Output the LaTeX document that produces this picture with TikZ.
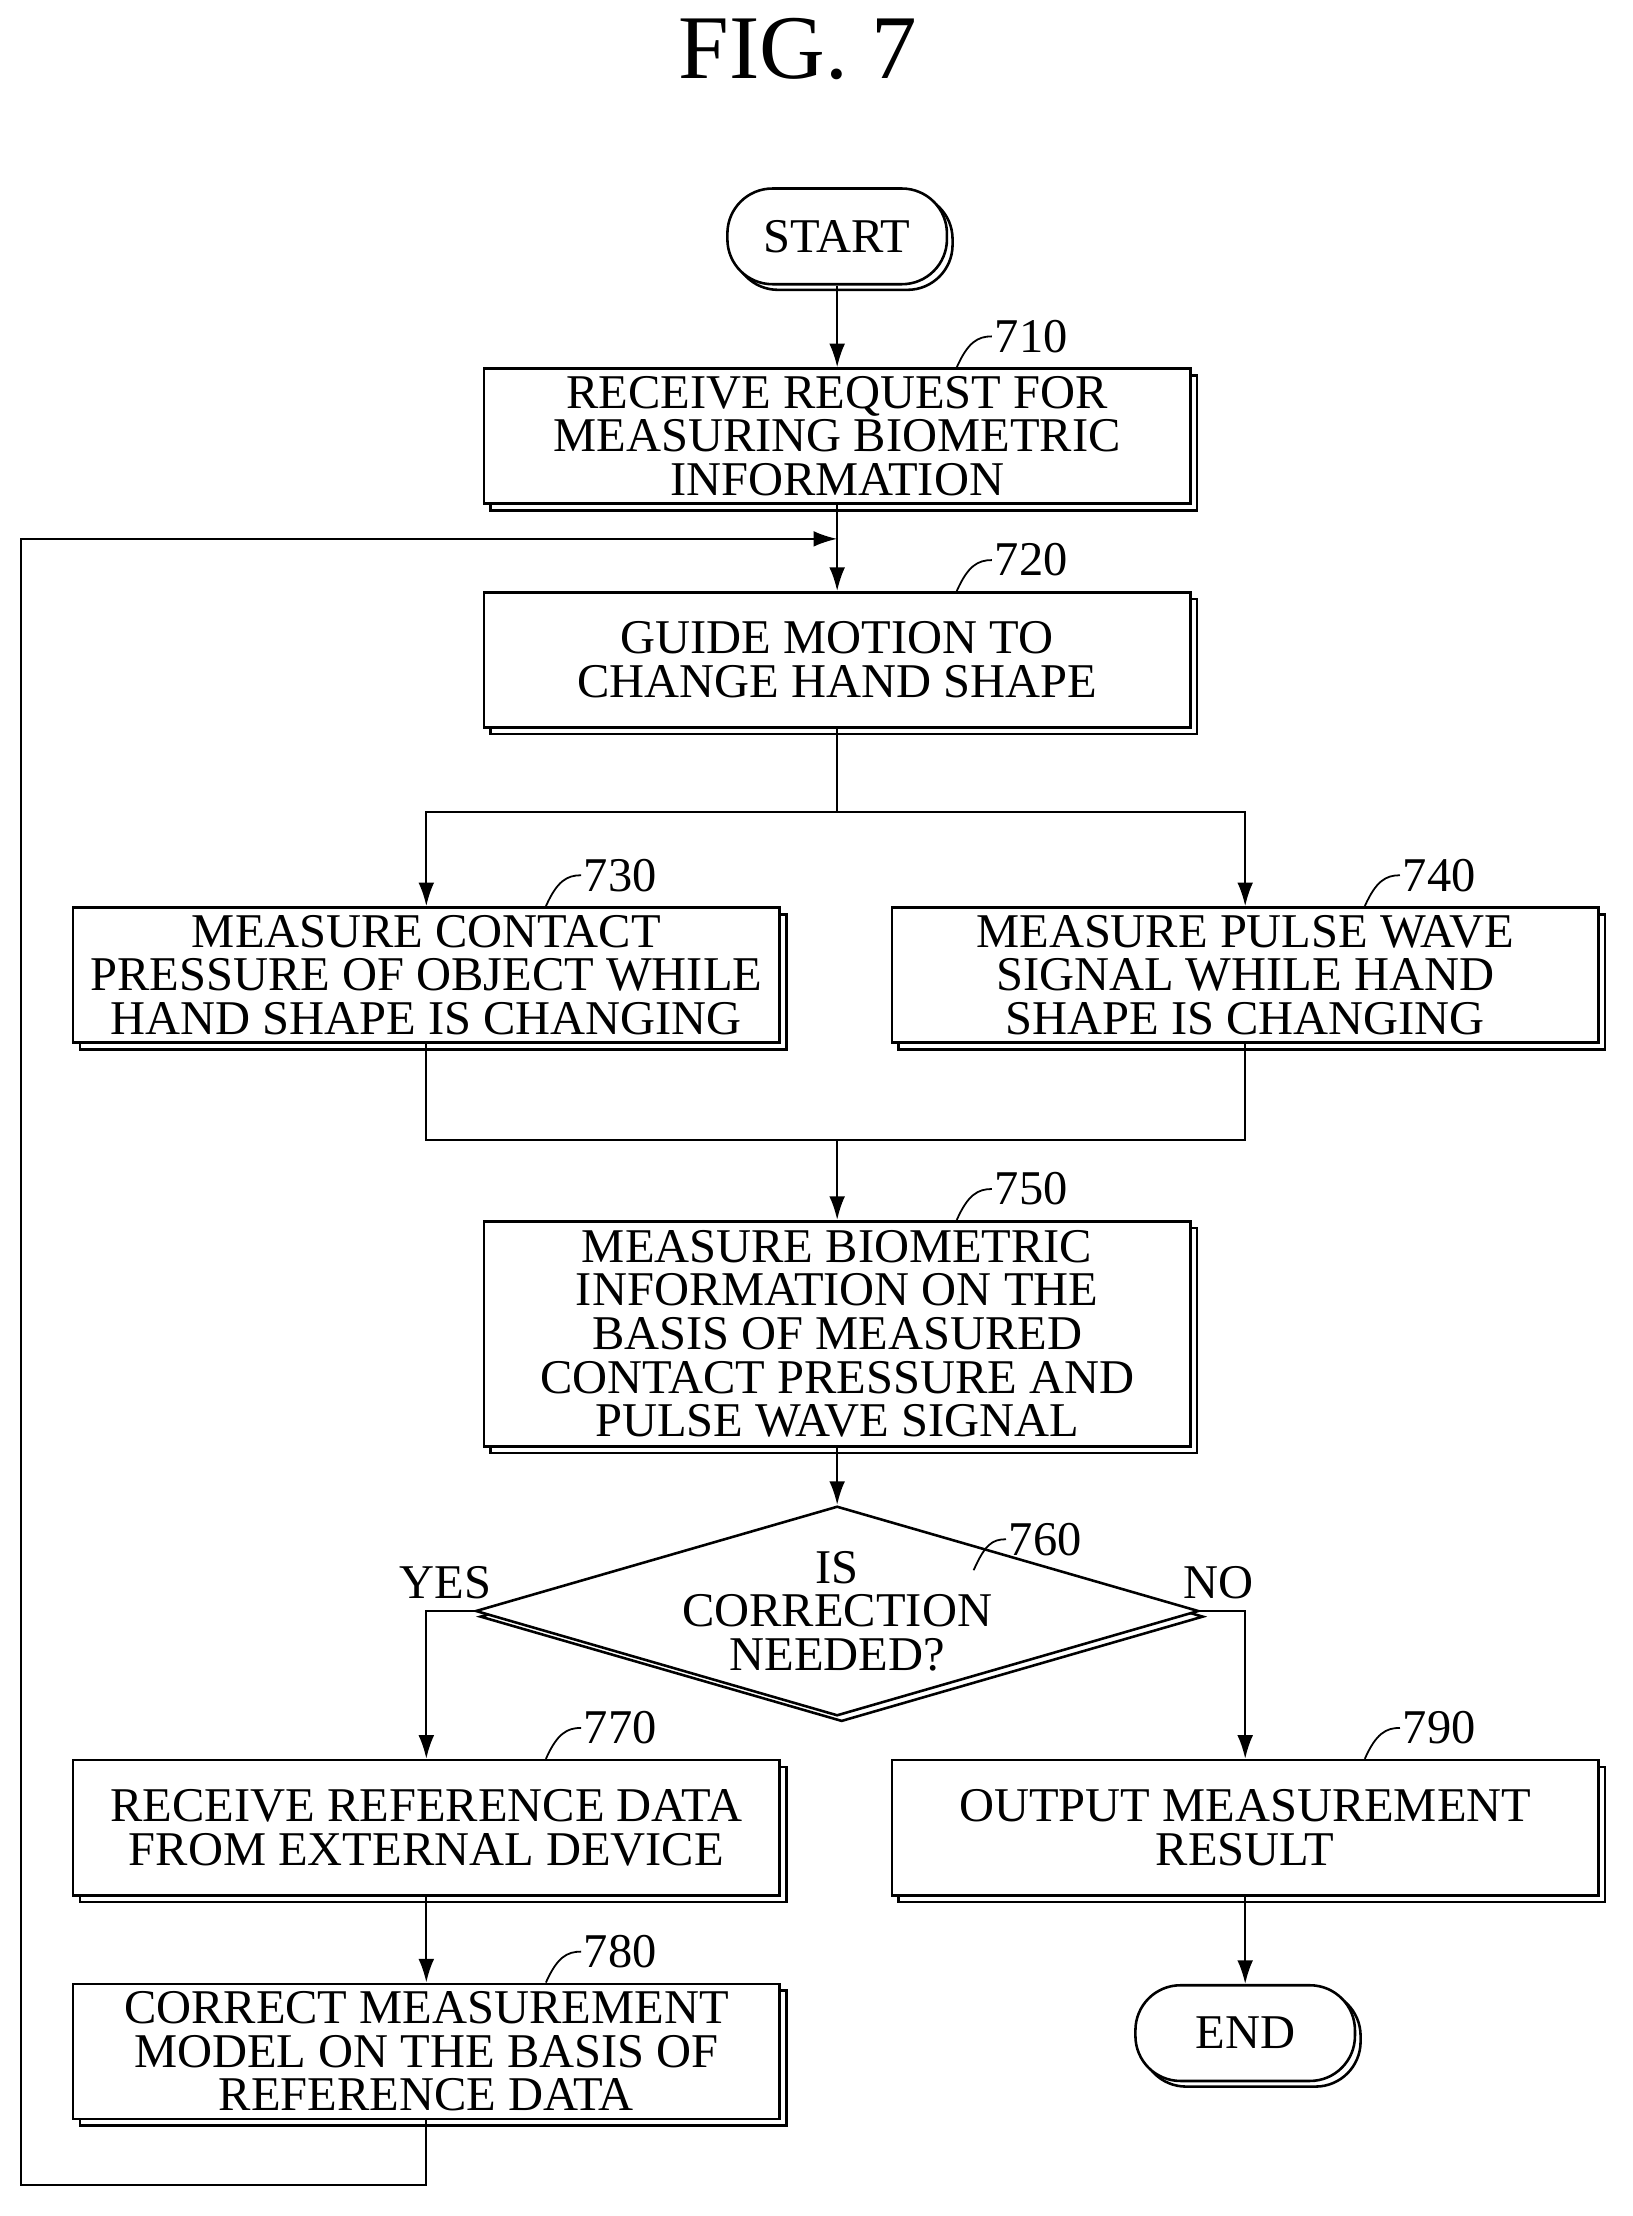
\documentclass[tikz,border=0pt]{standalone}
\usepackage{fontspec}
\setmainfont{Liberation Serif}
\usetikzlibrary{shapes.geometric,shadows,calc,arrows.meta}
\tikzset{
	box/.style={draw, line width=1.3pt, fill=white, minimum width=12.55cm, minimum height=2.4cm,
		align=center, inner sep=2pt,
		copy shadow={shadow xshift=0.12cm, shadow yshift=-0.12cm, draw, line width=1.3pt}},
	term/.style={draw, line width=1.3pt, rounded corners=0.8cm, minimum width=3.9cm, minimum height=1.7cm,
		copy shadow={shadow xshift=0.1cm, shadow yshift=-0.1cm, draw, line width=1.3pt}, fill=white},
	flow/.style={line width=1.1pt, -{Latex[length=0.42cm,width=0.28cm]}},
	line/.style={line width=1.1pt}
}
\newcommand{\steplbl}[2]{%
	\draw[line width=0.9pt] ($(#1.north)+(85,0)$) .. controls +(8,-18) and +(-10,0) .. ($(#1.north)+(110,-22)$)
	node[anchor=west, inner sep=1pt] {#2};
}
\begin{document}
\begin{tikzpicture}[x=0.025cm, y=-0.025cm, font=\fontsize{24.5}{22}\selectfont]
		\useasboundingbox (0,0) rectangle (1160,1575);
		\node[font=\fontsize{46}{50}\selectfont] (title) at (567,35) {FIG. 7};

		% Nodes
		\node[term] (start) at (595,168) {START};
		\node[box] (s710) at (595,310) {RECEIVE REQUEST FOR\\MEASURING BIOMETRIC\\INFORMATION};
		\node[box] (s720) at (595,469) {GUIDE MOTION TO\\CHANGE HAND SHAPE};
		\node[box] (s730) at (303,693) {MEASURE CONTACT\\PRESSURE OF OBJECT WHILE\\HAND SHAPE IS CHANGING};
		\node[box] (s740) at (885,693) {MEASURE PULSE WAVE\\SIGNAL WHILE HAND\\SHAPE IS CHANGING};
		\node[box, minimum height=4cm] (s750) at (595,948) {MEASURE BIOMETRIC\\INFORMATION ON THE\\BASIS OF MEASURED\\CONTACT PRESSURE AND\\PULSE WAVE SIGNAL};
		\node[diamond, draw, line width=1.3pt, aspect=3.45, minimum width=9.5cm, minimum height=2.75cm, inner sep=0pt, align=center,
			copy shadow={shadow xshift=0.08cm, shadow yshift=-0.1cm, draw, line width=1.3pt}, fill=white] (s760) at (595,1145) {IS\\CORRECTION\\NEEDED?};
		\node[box] (s770) at (303,1299) {RECEIVE REFERENCE DATA\\FROM EXTERNAL DEVICE};
		\node[box] (s790) at (885,1299) {OUTPUT MEASUREMENT\\RESULT};
		\node[box] (s780) at (303,1458) {CORRECT MEASUREMENT\\MODEL ON THE BASIS OF\\REFERENCE DATA};
		\node[term] (end) at (885,1445) {END};

		% Labels
		\steplbl{s710}{710}
		\steplbl{s720}{720}
		\steplbl{s730}{730}
		\steplbl{s740}{740}
		\steplbl{s750}{750}
		\steplbl{s770}{770}
		\steplbl{s780}{780}
		\steplbl{s790}{790}
		\draw[line width=0.9pt] (692,1116) .. controls +(8,-18) and +(-10,0) .. (715,1094) node[anchor=west, inner sep=1pt] {760};

		% Connectors
		\coordinate (join) at (595,383);
		\coordinate (split) at (595,577);
		\coordinate (merge) at (595,810);
		\draw[flow] (start) -- (s710);
		\draw[flow] (s710) -- (s720);
		\draw[line] (s720) -- (split);
		\draw[flow] (split) -| (s730);
		\draw[flow] (split) -| (s740);
		\draw[line] (s730) |- (merge);
		\draw[line] (s740) |- (merge);
		\draw[flow] (merge) -- (s750);
		\draw[flow] (s750) -- (s760);
		\draw[flow] (s760.west) -| node[pos=0.3, above=2pt] {YES} (s770);
		\draw[flow] (s760.east) -| node[pos=0.2, above=2pt] {NO} (s790);
		\draw[flow] (s770) -- (s780);
		\draw[flow] (s790) -- (end);
		\draw[flow] (s780.south) -- ++(0,46) -| (15,383) -- (join);
\end{tikzpicture}
\end{document}
